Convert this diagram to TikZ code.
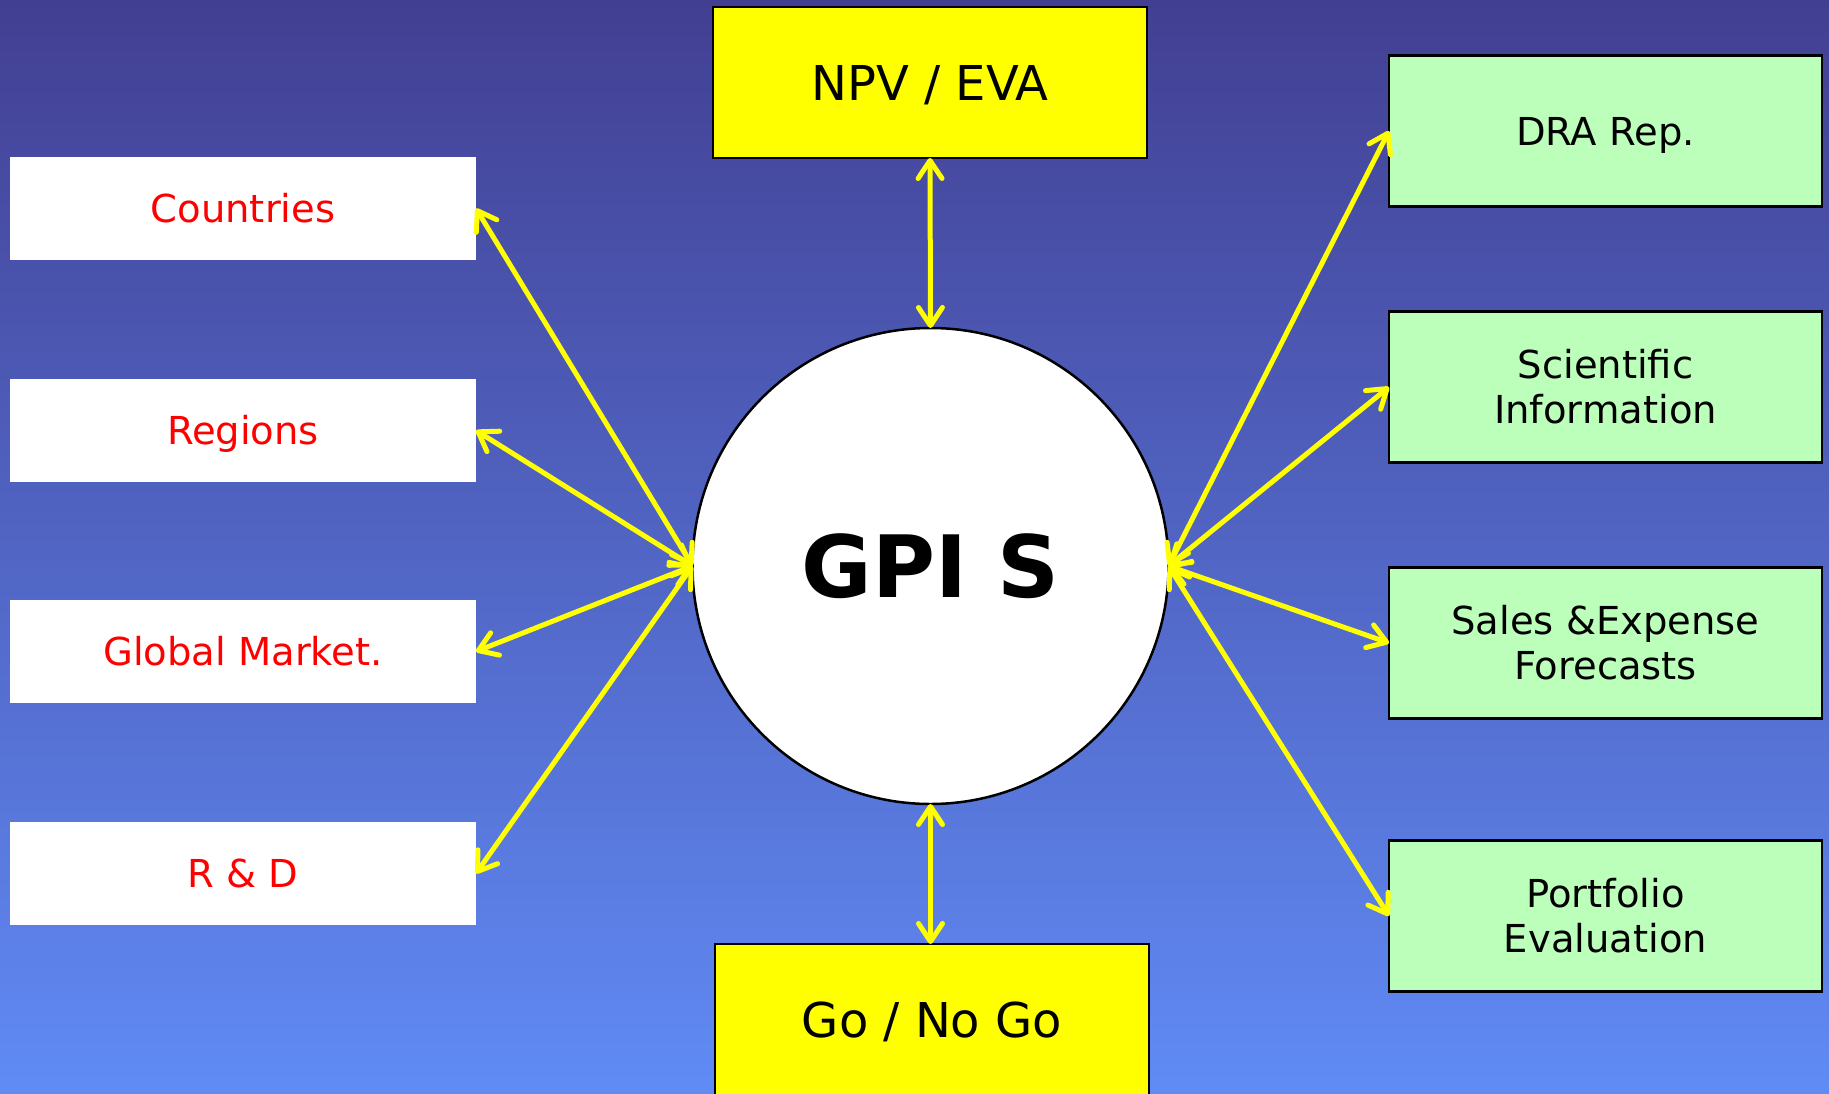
\documentclass[tikz,border=0pt]{standalone}
\usepackage{fontspec}
\setmainfont{DejaVu Sans}
\usetikzlibrary{arrows.meta}
\definecolor{bgtop}{RGB}{66,63,146}
\definecolor{bgbot}{RGB}{96,139,245}
\definecolor{boxgreen}{RGB}{187,255,187}
\definecolor{pureyellow}{RGB}{255,255,0}
\definecolor{purered}{RGB}{255,0,0}
\tikzset{
  leftbox/.style={fill=white, draw=none, minimum width=466pt, minimum height=103pt, inner sep=0pt, outer sep=0pt,
    text=purered, font=\fontsize{38.5}{45}\selectfont, text height=28pt, text depth=0pt},
  rightbox/.style={fill=boxgreen, draw=black, line width=2.5pt, minimum width=433pt, minimum height=151pt, inner sep=0pt, outer sep=0pt,
    align=center, font=\fontsize{38.5}{45}\selectfont},
  oneline/.style={text height=28pt, text depth=0pt},
  twoline/.style={text height=73pt, text depth=0pt},
  keybox/.style={fill=pureyellow, draw=black, line width=2.5pt, minimum width=434pt, minimum height=151pt, inner sep=0pt, outer sep=0pt,
    font=\fontsize{48}{56}\selectfont, text height=35pt, text depth=0pt},
  hub/.style={circle, fill=white, draw=black, line width=2.5pt, minimum size=476pt, inner sep=0pt, outer sep=0pt,
    font=\fontsize{86}{96}\selectfont\bfseries},
  link/.style={draw=pureyellow, line width=5pt, {Straight Barb[length=18pt,width=24pt,round]}-{Straight Barb[length=18pt,width=24pt,round]}}
}
\begin{document}
\begin{tikzpicture}[x=1pt,y=-1pt]
\useasboundingbox (0,0) rectangle (1829,1093);
\shade[top color=bgtop, bottom color=bgbot] (0,0) rectangle (1829,1093);

\node[hub] (circ) at (930.5,566) {GPI S};

\node[keybox] (npv) at (930,82.5) {NPV / EVA};
\node[keybox] (go) at (932,1019.5) {Go / No Go};

\node[leftbox] (countries) at (243,208.5) {Countries};
\node[leftbox] (regions) at (243,430.5) {Regions};
\node[leftbox] (global) at (243,651.5) {Global Market.};
\node[leftbox] (rd) at (243,873.5) {R \& D};

\node[rightbox, oneline] (dra) at (1605.5,131) {DRA Rep.};
\node[rightbox, twoline] (sci) at (1605.5,387) {Scientific\\Information};
\node[rightbox, twoline] (sales) at (1605.5,643) {Sales \&Expense\\Forecasts};
\node[rightbox, twoline] (port) at (1605.5,916) {Portfolio\\Evaluation};

\draw[link] (npv.south) -- (circ.north);
\draw[link] (circ.south) -- (circ.south |- go.north);

\draw[link] (countries.east) -- (circ.west);
\draw[link] (regions.east) -- (circ.west);
\draw[link] (global.east) -- (circ.west);
\draw[link] (rd.east) -- (circ.west);

\draw[link] (circ.east) -- (dra.west);
\draw[link] (circ.east) -- (sci.west);
\draw[link] (circ.east) -- (sales.west);
\draw[link] (circ.east) -- (port.west);
\end{tikzpicture}
\end{document}
